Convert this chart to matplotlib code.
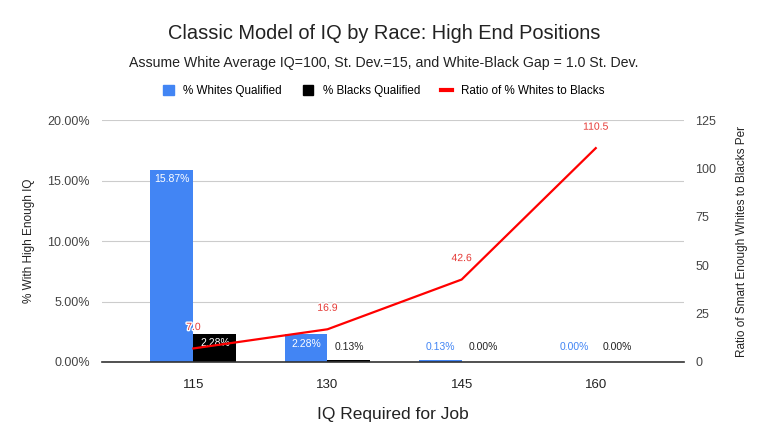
import numpy as np
import matplotlib
matplotlib.use("Agg")
import matplotlib.pyplot as plt
import matplotlib.patheffects as pe
from matplotlib.ticker import FuncFormatter
from matplotlib.patches import Patch
from matplotlib.lines import Line2D

plt.rcParams["font.family"] = ["Liberation Sans", "DejaVu Sans"]

# data
iq_levels = ["115", "130", "145", "160"]
pct_whites = [15.87, 2.28, 0.13, 0.00]
pct_blacks = [2.28, 0.13, 0.00, 0.00]
ratio = [7.0, 16.9, 42.6, 110.5]

BLUE = "#4285F4"
BLACK = "#000000"
RED = "#FF0000"
GRID = "#CCCCCC"
TXT = "#444444"

fig = plt.figure(figsize=(7.68, 4.48), dpi=100)
ax = fig.add_axes([0.133, 0.192, 0.758, 0.54])
ax2 = ax.twinx()

x = np.arange(len(iq_levels))
w = 0.32

ax.bar(x - w / 2, pct_whites, width=w, color=BLUE, zorder=2)
ax.bar(x + w / 2, pct_blacks, width=w, color=BLACK, zorder=2)

ax.set_xlim(-0.68, 3.66)
ax.set_ylim(0, 20)
ax.set_yticks([0, 5, 10, 15, 20])
ax.yaxis.set_major_formatter(FuncFormatter(lambda v, p: f"{v:.2f}%"))
ax.grid(axis="y", color=GRID, linewidth=0.8, zorder=0)
ax.set_axisbelow(True)
for s in ["top", "right", "left"]:
    ax.spines[s].set_visible(False)
ax.spines["bottom"].set_color("#333333")
ax.spines["bottom"].set_linewidth(1.2)
ax.tick_params(axis="y", length=0, labelsize=9, colors=TXT, pad=9)
ax.tick_params(axis="x", length=0, labelsize=9.5, colors="#222222", pad=12)
ax.set_xticks(x)
ax.set_xticklabels(iq_levels)
ax.set_ylabel("% With High Enough IQ", fontsize=8.5, color="#222222", labelpad=9)
ax.set_xlabel("IQ Required for Job", fontsize=12.5, color="#222222", labelpad=12)

# bar labels
for i, v in enumerate(pct_whites):
    if v > 1:
        ax.text(x[i] - w / 2, v - 0.35, f"{v:.2f}%", ha="center", va="top",
                fontsize=7.5, color="white", zorder=5)
    else:
        ax.text(x[i] - w / 2, 0.8, f"{v:.2f}%", ha="center", va="bottom",
                fontsize=7.5, color=BLUE, zorder=5)
for i, v in enumerate(pct_blacks):
    if v > 1:
        ax.text(x[i] + w / 2, v - 0.3, f"{v:.2f}%", ha="center", va="top",
                fontsize=7.5, color="white", zorder=5)
    else:
        ax.text(x[i] + w / 2, 0.8, f"{v:.2f}%", ha="center", va="bottom",
                fontsize=7.5, color="#222222", zorder=5)

# ratio line
ax2.plot(x, ratio, color=RED, linewidth=1.6, zorder=4)
ax2.set_ylim(0, 125)
ax2.set_yticks([0, 25, 50, 75, 100, 125])
for s in ["top", "right", "left", "bottom"]:
    ax2.spines[s].set_visible(False)
ax2.tick_params(axis="y", length=0, labelsize=9, colors=TXT, pad=8)
ax2.set_ylabel("Ratio of Smart Enough Whites to Blacks Per", fontsize=8.5,
               color="#222222", labelpad=14)
for i, v in enumerate(ratio):
    ax2.text(x[i], v + 8.5, f"{v:.1f}", ha="center", va="bottom",
             fontsize=7.5, color="#E53935", zorder=6,
             path_effects=[pe.withStroke(linewidth=2, foreground="white")])

# titles
fig.text(0.5, 0.925, "Classic Model of IQ by Race: High End Positions",
         ha="center", va="center", fontsize=14.4, color="#222222")
fig.text(0.5, 0.86, "Assume White Average IQ=100, St. Dev.=15, and White-Black Gap = 1.0 St. Dev.",
         ha="center", va="center", fontsize=10.2, color="#222222")

# legend
handles = [Patch(color=BLUE, label="% Whites Qualified"),
           Patch(color=BLACK, label="% Blacks Qualified"),
           Line2D([0], [0], color=RED, linewidth=3, label="Ratio of % Whites to Blacks")]
fig.legend(handles=handles, loc="center", bbox_to_anchor=(0.5, 0.797), ncol=3,
           frameon=False, fontsize=8.4, handlelength=0.9, handleheight=0.9,
           columnspacing=1.8, handletextpad=0.8)

fig.savefig("out.png", dpi=100)
